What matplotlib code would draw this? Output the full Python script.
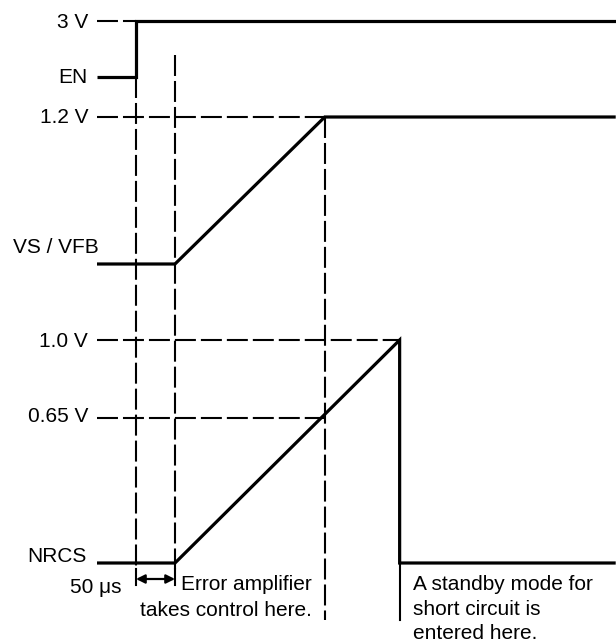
import matplotlib
matplotlib.use("Agg")
import matplotlib.pyplot as plt

plt.rcParams['font.family'] = ['Liberation Sans', 'DejaVu Sans']
plt.rcParams['lines.scale_dashes'] = False

# ---- data (times in microseconds, levels in volts) ----
t_en = 50.0          # EN goes high
t_ea = 100.0         # error amplifier takes control (EN + 50 us)
t_vs = 292.0         # VS / VFB reaches 1.2 V ; NRCS passes 0.65 V
t_sc = 388.0         # NRCS reaches 1.0 V -> standby mode
t_end = 665.0

en_t = [0.0, t_en, t_en, t_end]
en_v = [0.0, 0.0, 3.0, 3.0]
vs_t = [0.0, t_ea, t_vs, t_end]
vs_v = [0.0, 0.0, 1.2, 1.2]
nrcs_t = [0.0, t_ea, t_sc, t_sc, t_end]
nrcs_v = [0.0, 0.0, 1.0, 0.0, 0.0]

en_level = 3.0
vs_level = 1.2
nrcs_levels = [1.0, 0.65]
level_labels = ["3 V", "1.2 V", "1.0 V", "0.65 V"]
signal_labels = ["EN", "VS / VFB", "NRCS"]

# ---- layout ----
W, H = 616, 642
X0 = 97.0            # pixel of t = 0
KX = 0.78            # px per us
fig = plt.figure(figsize=(W / 100, H / 100), dpi=100)
ax = fig.add_axes([0, 0, 1, 1])
ax.set_xlim(-X0 / KX, (W - X0) / KX)
ax.set_ylim(H, 0)
ax.axis('off')

# lanes: base row (0 V) and pixels per volt
EN_B, EN_S = 77.0, 56.0 / 3.0
VS_B, VS_S = 264.0, 147.0 / 1.2
NR_B, NR_S = 563.0, 223.0

def row(base, scale, v):
    return [base - scale * x for x in v] if isinstance(v, list) else base - scale * v

SOL = dict(color='black', lw=2.3, solid_joinstyle='miter', solid_capstyle='butt')
DASH = dict(color='black', lw=1.5, dashes=(15.1, 3.6), dash_capstyle='butt')

# signals
ax.plot(en_t, row(EN_B, EN_S, en_v), **SOL)
ax.plot(vs_t, row(VS_B, VS_S, vs_v), **SOL)
ax.plot(nrcs_t, row(NR_B, NR_S, nrcs_v), **SOL)

# horizontal reference levels
ax.plot([0, t_en], [row(EN_B, EN_S, en_level)] * 2, **DASH)
ax.plot([0, t_vs], [row(VS_B, VS_S, vs_level)] * 2, **DASH)
ax.plot([0, t_sc], [row(NR_B, NR_S, nrcs_levels[0])] * 2, **DASH)
ax.plot([0, t_vs], [row(NR_B, NR_S, nrcs_levels[1])] * 2, **DASH)

# vertical markers
ax.plot([t_en, t_en], [EN_B, 570], **DASH)
ax.plot([t_ea, t_ea], [55, 570], **DASH)
ax.plot([t_vs, t_vs], [row(VS_B, VS_S, vs_level), 620], **DASH)
ax.plot([t_sc, t_sc], [NR_B, 620], color='black', lw=1.5)

# 50 us dimension
ax.plot([t_en, t_en], [569, 585], color='black', lw=1.5)
ax.plot([t_ea, t_ea], [569, 585], color='black', lw=1.5)
ax.annotate('', xy=(t_ea, 579), xytext=(t_en, 579),
            arrowprops=dict(arrowstyle='<|-|>', color='black', lw=1.6,
                            shrinkA=0, shrinkB=0, mutation_scale=13))

FS = 15

def txt(x, y, s, ha='right'):
    fig.text(x / W, 1 - y / H, s, ha=ha, va='baseline', fontsize=FS)

txt(88, 28, level_labels[0])
txt(88, 83, signal_labels[0])
txt(88, 123, level_labels[1])
txt(13, 253, signal_labels[1], ha='left')
txt(88, 347, level_labels[2])
txt(88, 422, level_labels[3])
txt(87, 562, signal_labels[2])
txt(122, 593, "50 μs")
txt(312, 590, "Error amplifier")
txt(312, 616, "takes control here.")
txt(413, 590, "A standby mode for", ha='left')
txt(413, 615, "short circuit is", ha='left')
txt(413, 639, "entered here.", ha='left')

fig.savefig("out.png", dpi=100)
